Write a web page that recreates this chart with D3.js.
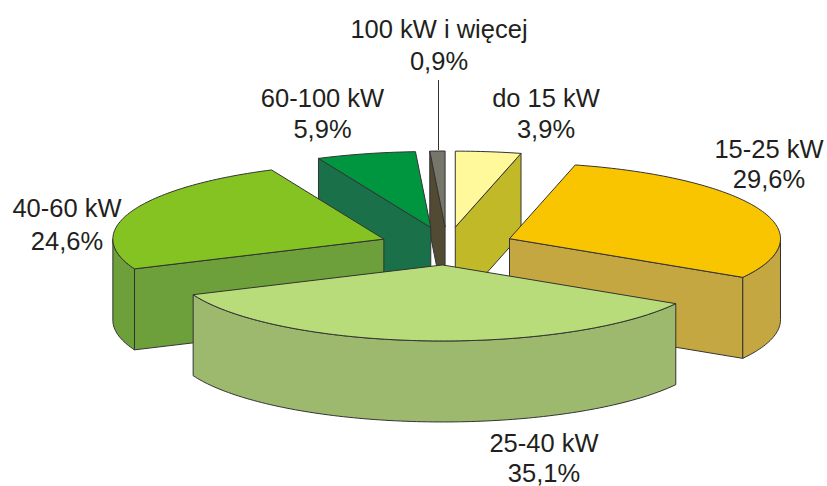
<!DOCTYPE html>
<html><head><meta charset="utf-8">
<script src="https://cdn.jsdelivr.net/npm/d3@7/dist/d3.min.js"></script>
<style>html,body{margin:0;padding:0;background:#fff}svg{display:block}text{font-family:"Liberation Sans",Arial,sans-serif;font-size:25.5px;fill:#231f20;text-anchor:middle}</style>
</head><body><svg id="c" width="827" height="486"></svg>
<script>
const categories = ["do 15 kW","15-25 kW","25-40 kW","40-60 kW","60-100 kW","100 kW i więcej"];
const values = [3.9,29.6,35.1,24.6,5.9,0.9];
const valueLabels = ["3,9%","29,6%","35,1%","24,6%","5,9%","0,9%"];
const topColors = ["#fff99b","#f9c400","#b8dc7a","#84c322","#00963f","#76776a"];
const sideColors = ["#c2b928","#c5a741","#9db96e","#6da03a","#1a7049","#524a33"];
const labelX = [546,769,544,67,322.5,439];
const labelY = [107,158,452,217,106.5,38];
const labelGap = [31,30,30,33,31.5,32];

const cx=447, cy=246, rx=271, ry=76, depth=81, explode=0.25;
const svg=d3.select("#c");
const pie=d3.pie().sort(null).value(d=>d);
const arcs=pie(values).map((a,i)=>({...a,i,mid:(a.startAngle+a.endAngle)/2}));
const line=d3.line();
const face=(pts,fill)=>svg.append("path").attr("d",line(pts)+"Z").attr("fill",fill)
  .attr("stroke","#333").attr("stroke-width",1).attr("stroke-linejoin","round");

arcs.slice().sort((a,b)=>Math.cos(b.mid)-Math.cos(a.mid)).forEach(a=>{
  const ax=cx+rx*explode*Math.sin(a.mid), ay=cy-ry*explode*Math.cos(a.mid);
  const P=t=>[ax+rx*Math.sin(t), ay-ry*Math.cos(t)];
  const samples=(s,e)=>{const n=Math.max(2,Math.ceil((e-s)/0.02));return d3.range(n+1).map(k=>s+(e-s)*k/n);};
  const drop=p=>[p[0],p[1]+depth];
  const wall=(p,q)=>face([p,q,drop(q),drop(p)],sideColors[a.i]);
  const apex=[ax,ay], st=P(a.startAngle), en=P(a.endAngle);
  if(st[0]<apex[0]-0.01) wall(apex,st);
  if(en[0]>apex[0]+0.01) wall(en,apex);
  const s=Math.max(a.startAngle,Math.PI/2), e=Math.min(a.endAngle,Math.PI*1.5);
  if(e>s){
    const top=samples(s,e).map(P);
    face(top.concat(top.slice().reverse().map(drop)),sideColors[a.i]);
  }
  face([apex].concat(samples(a.startAngle,a.endAngle).map(P)),topColors[a.i]);
});

svg.append("line").attr("x1",438.5).attr("x2",438.5).attr("y1",80).attr("y2",150).attr("stroke","#333").attr("stroke-width",1);

categories.forEach((c,i)=>{
  svg.append("text").attr("x",labelX[i]).attr("y",labelY[i]).text(c);
  svg.append("text").attr("x",labelX[i]).attr("y",labelY[i]+labelGap[i]).text(valueLabels[i]);
});
</script></body></html>
